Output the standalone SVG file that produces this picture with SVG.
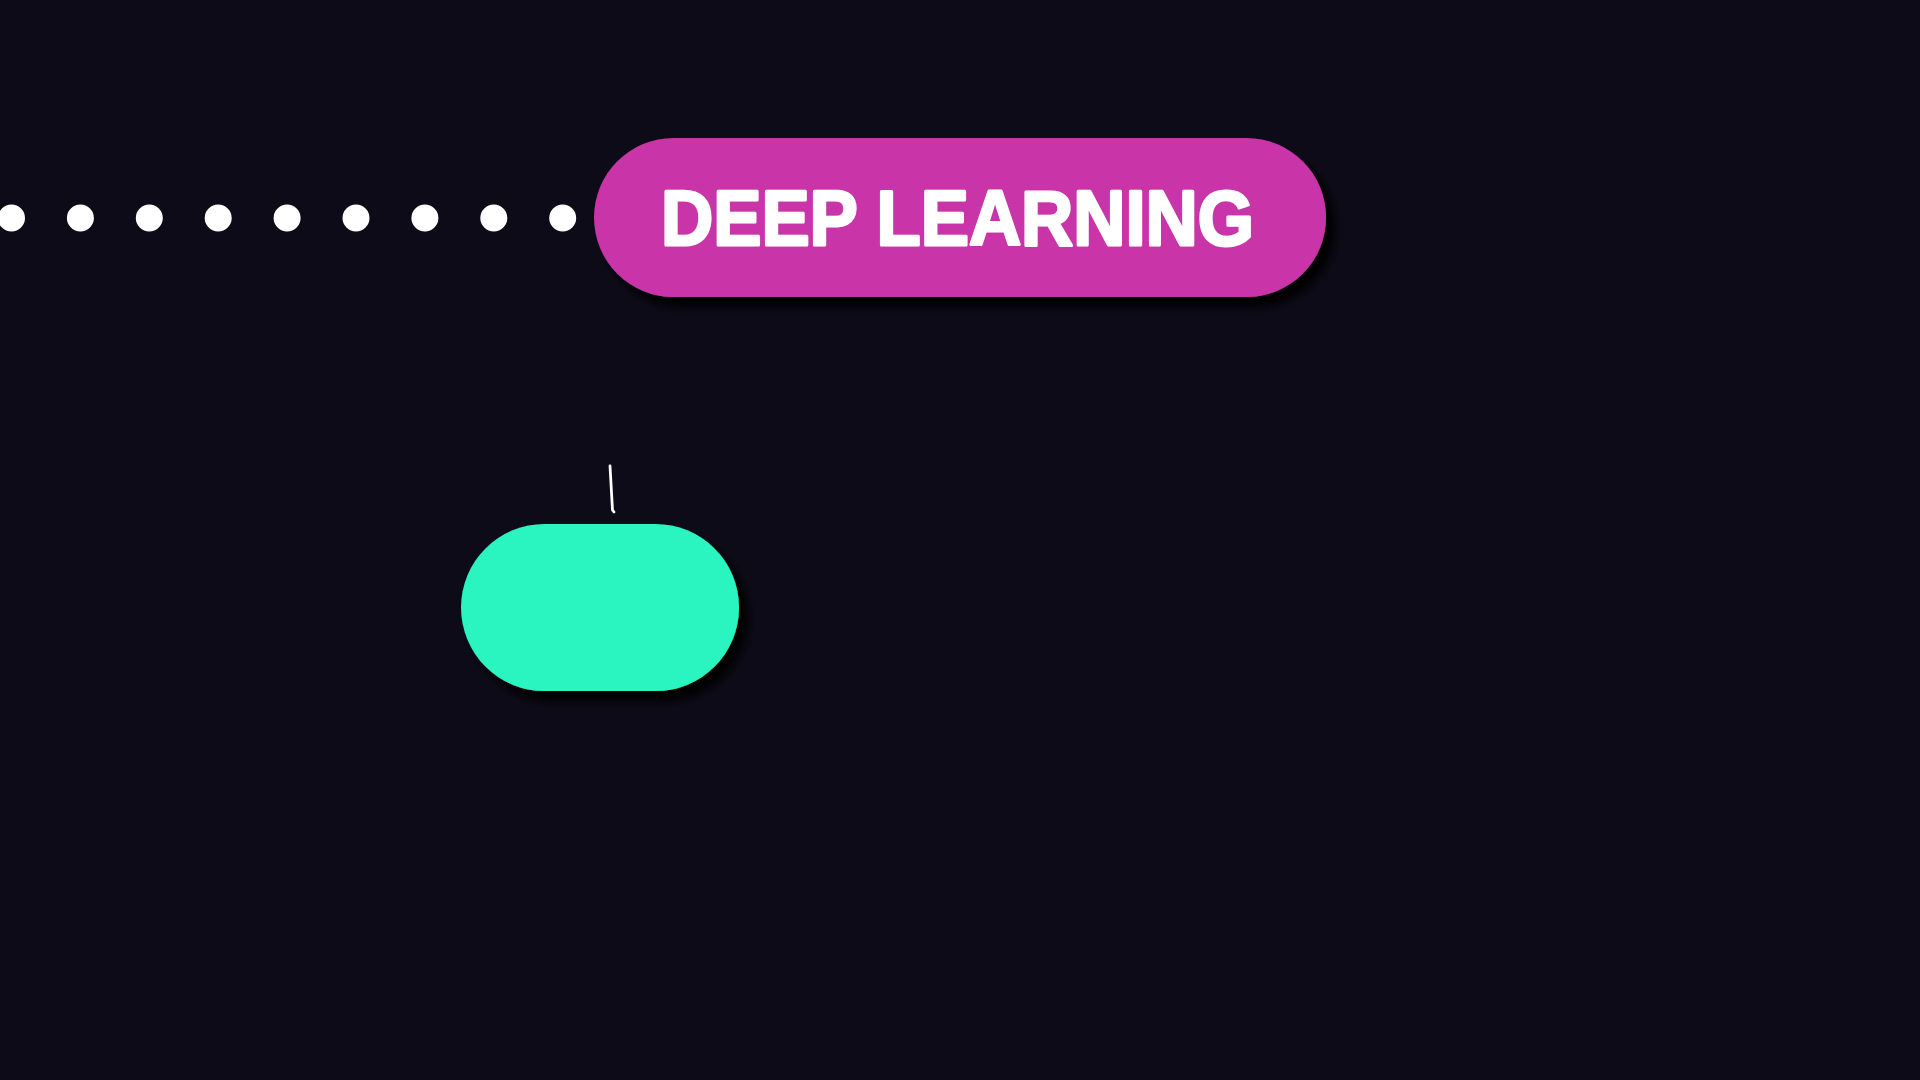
<svg xmlns="http://www.w3.org/2000/svg" width="1920" height="1080" viewBox="0 0 1920 1080">
  <style>
    .bg { fill: #0c0b17; }
    .pill-magenta { fill: #c935a9; }
    .pill-green { fill: #2cf4bf; }
    .label { font-family: "Liberation Sans", Arial, sans-serif; font-weight: 700; fill: #ffffff; stroke: #ffffff; stroke-width: 3; stroke-linejoin: round; }
    .dots { stroke: #ffffff; stroke-width: 27; stroke-linecap: round; stroke-dasharray: 0 68.9; fill: none; }
    .stroke { stroke: #ffffff; stroke-width: 2.8; stroke-linecap: round; fill: none; }
  </style>
  <defs>
    <filter id="shadow" x="-10%" y="-20%" width="130%" height="150%">
      <feDropShadow dx="9" dy="10" stdDeviation="4" flood-color="#000000" flood-opacity="0.95"/>
    </filter>
  </defs>
  <rect class="bg" x="0" y="0" width="1920" height="1080"/>
  <g id="connectors">
    <line class="dots" x1="11.5" y1="218" x2="563" y2="218"/>
    <path class="stroke" d="M610 466 L612.5 510 L614 512"/>
  </g>
  <g id="node-deep-learning">
    <rect class="pill-magenta" x="594" y="138" width="732" height="159" rx="79.5" ry="79.5" filter="url(#shadow)"/>
    <text class="label" x="661" y="245" font-size="78" textLength="593" lengthAdjust="spacingAndGlyphs">DEEP LEARNING</text>
  </g>
  <g id="node-green">
    <rect class="pill-green" x="461" y="524" width="278" height="167" rx="83.5" ry="83.5" filter="url(#shadow)"/>
  </g>
</svg>
